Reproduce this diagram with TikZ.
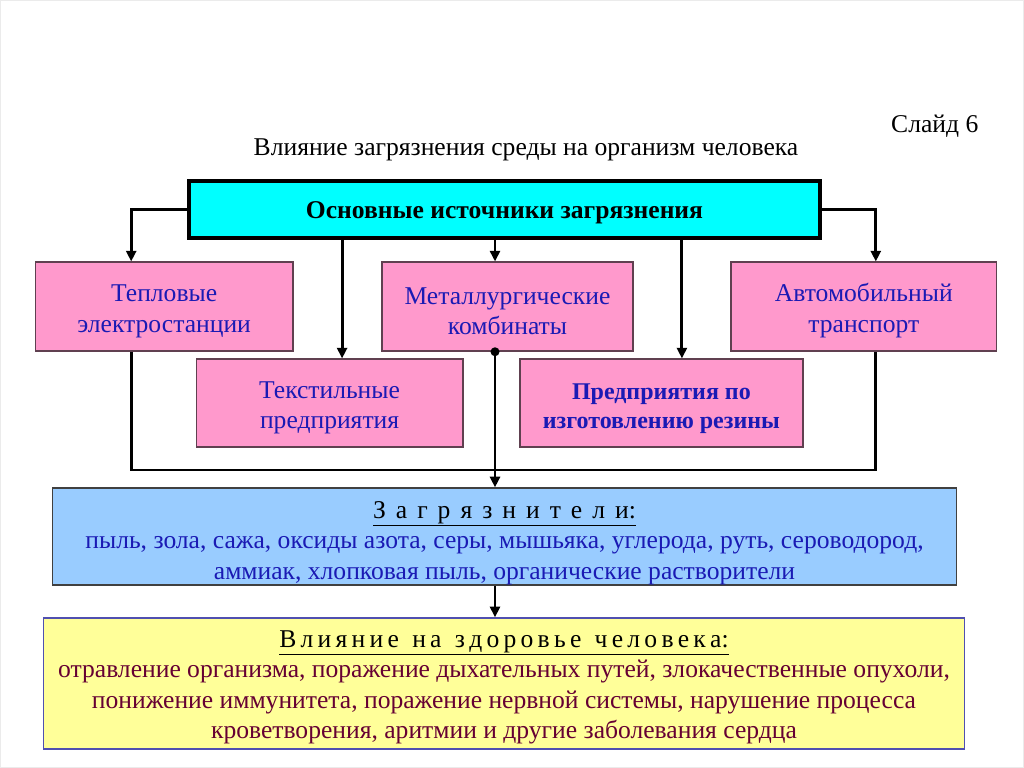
\documentclass[tikz,border=0pt]{standalone}
\usepackage{fontspec}
\setmainfont{Liberation Serif}
\usetikzlibrary{arrows.meta}

\definecolor{srccyan}{HTML}{00FFFF}
\definecolor{srcpink}{HTML}{FF99CC}
\definecolor{pinkline}{HTML}{604050}
\definecolor{polblue}{HTML}{99CCFF}
\definecolor{healthyel}{HTML}{FFFF99}
\definecolor{yelline}{HTML}{5050B0}
\definecolor{txtblue}{HTML}{1A1AB4}
\definecolor{txtred}{HTML}{660033}

\newcommand\lgap{\kern7.5pt}
\newcommand\sgap{\kern3.2pt}
\newcommand\wgap{\kern10pt}
\newcommand\tst[1]{\rule{0pt}{#1}}

\begin{document}
\begin{tikzpicture}[
  x=0.75pt, y=-0.75pt,
  font=\fontsize{19.2}{23}\selectfont,
  arrow/.style={-{Triangle[length=8pt,width=7.5pt]}, line width=2.2pt},
  line/.style={line width=2.2pt},
  srcbox/.style={
    draw=black,
    line width=3pt,
    fill=srccyan,
    minimum width=473.25pt,
    minimum height=42.75pt,
    font=\fontsize{19.2}{23}\selectfont\bfseries
  },
  box/.style={
    draw=pinkline,
    line width=1pt,
    fill=srcpink,
    align=center,
    text=txtblue,
    minimum height=66.75pt
  },
  wide/.style={
    draw=black!75,
    line width=1pt,
    align=center,
    inner sep=0pt
  }
]

% =========================
% Frame and titles
% =========================
\draw[black!8, fill=white] (0,0) rectangle (1024,767);
\node (slide) at (935,126) {Слайд 6};
\node (title) at (526,150) {Влияние загрязнения среды на организм человека};

% =========================
% Sources
% =========================
\node[srcbox] (src) at (504.5,209.5) {\tst{18pt}Основные источники загрязнения};

\node[box, minimum width=193.5pt] (heat) at (164,306.5)
{\tst{19.5pt}Тепловые\\электростанции};

\node[box, minimum width=188.25pt] (metal) at (507.5,306.5)
{\tst{19.5pt}Металлургические\\комбинаты};

\node[box, minimum width=199.5pt] (auto) at (864,306.5)
{\tst{19.5pt}Автомобильный\\транспорт};

\node[box, minimum width=200.25pt, minimum height=66pt] (textile) at (329.5,403)
{\tst{19.5pt}Текстильные\\предприятия};

\node[box, minimum width=212.25pt, minimum height=66pt,
      font=\fontsize{18}{22}\selectfont\bfseries] (rubber) at (661.5,403)
{\tst{20pt}Предприятия по\\изготовлению резины};

\draw[arrow] (src.west) -| (131,0 |- heat.north);
\draw[arrow] (342,0 |- src.south) -- (342,0 |- textile.north);
\draw[arrow] (495,0 |- src.south) -- (495,0 |- metal.north);
\draw[arrow] (682,0 |- src.south) -- (682,0 |- rubber.north);
\draw[arrow] (src.east) -| (876,0 |- auto.north);

% =========================
% Pollutants and health
% =========================
\node[wide, fill=polblue, minimum width=678.75pt, minimum height=72.75pt] (pollut) at (504.5,536.5)
{\tst{22.5pt}\underline{З\lgap а\lgap г\lgap р\lgap я\lgap з\lgap н\lgap и\lgap т\lgap е\lgap л\lgap и:}\\
\textcolor{txtblue}{пыль, зола, сажа, оксиды азота, серы, мышьяка, углерода, руть, сероводород,}\\
\textcolor{txtblue}{аммиак, хлопковая пыль, органические растворители}};

\node[wide, draw=yelline, fill=healthyel, minimum width=691.5pt, minimum height=98.25pt] (health) at (504,683.5)
{\tst{18.5pt}\underline{В\sgap л\sgap и\sgap я\sgap н\sgap и\sgap е\wgap н\sgap а\wgap з\sgap д\sgap о\sgap р\sgap о\sgap в\sgap ь\sgap е\wgap ч\sgap е\sgap л\sgap о\sgap в\sgap е\sgap к\sgap а:}\\
\textcolor{txtred}{отравление организма, поражение дыхательных путей, злокачественные опухоли,}\\
\textcolor{txtred}{понижение иммунитета, поражение нервной системы, нарушение процесса}\\
\textcolor{txtred}{кроветворения, аритмии и другие заболевания сердца}};

% bus from the side sources
\draw[line] (131,0 |- heat.south) |- (876,470) -- (876,0 |- auto.south);
\fill (495,0 |- metal.south) circle (4.5);
\draw[arrow] (495,0 |- metal.south) -- (495,0 |- pollut.north);
\draw[arrow] (495,0 |- pollut.south) -- (495,0 |- health.north);

\end{tikzpicture}
\end{document}
